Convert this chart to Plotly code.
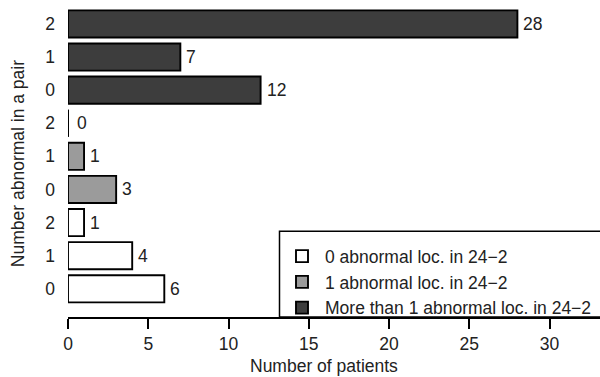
import plotly.graph_objects as go

# ---- data ----
group_names = [
    "0 abnormal loc. in 24\u22122",
    "1 abnormal loc. in 24\u22122",
    "More than 1 abnormal loc. in 24\u22122",
]
pair_labels = ["0", "1", "2"]
counts_0_abnormal = [6, 4, 1]
counts_1_abnormal = [3, 1, 0]
counts_more_abnormal = [12, 7, 28]
x_ticks = [0, 5, 10, 15, 20, 25, 30]

# ---- style ----
FONT = "Liberation Sans, Arial, Helvetica, sans-serif"
FS = 17.5
fills = ["#ffffff", "#9b9b9b", "#3d3d3d"]
W, H = 600, 377
ML, MR, MT, MB = 68, 0, 0, 60.3
plot_w = W - ML - MR
plot_h = H - MT - MB
px_per_unit = 16.05
row_px = 33.08
bar_w = 0.82

groups = [counts_0_abnormal, counts_1_abnormal, counts_more_abnormal]

fig = go.Figure()
annotations = []
shapes = []
ticktext = []
tickvals = []
row = 0
for gi, vals in enumerate(groups):
    ys = list(range(row, row + len(vals)))
    fig.add_trace(go.Bar(
        x=vals, y=ys, orientation="h", width=bar_w,
        name=group_names[gi],
        marker=dict(color=fills[gi], line=dict(color="#000000", width=1.9)),
        hoverinfo="x+y",
    ))
    for v, y, lab in zip(vals, ys, pair_labels):
        tickvals.append(y)
        ticktext.append(lab)
        annotations.append(dict(
            x=v, y=y, xref="x", yref="y", text=str(v), showarrow=False,
            xanchor="left", yanchor="middle", xshift=7 if v == 0 else 4,
            font=dict(family=FONT, size=FS, color="#222222"),
        ))
        if v == 0:
            # zero-length bar: R still draws its outline as a vertical segment
            shapes.append(dict(
                type="line", xref="x", yref="y", x0=v, x1=v,
                y0=y - bar_w / 2, y1=y + bar_w / 2,
                line=dict(color="#000000", width=1.9),
            ))
    row += len(vals)

# legend frame (extends past right edge like the reference)
shapes.append(dict(
    type="rect", xref="paper", yref="paper",
    x0=(279.5 - ML) / plot_w, x1=1.05, y0=0, y1=(plot_h - 231) / plot_h,
    line=dict(color="#000000", width=1.5), fillcolor="rgba(0,0,0,0)",
    layer="above",
))

# axis titles
annotations.append(dict(
    x=(324 - ML) / plot_w, y=-(366 - plot_h) / plot_h, xref="paper", yref="paper",
    text="Number of patients", showarrow=False, xanchor="center", yanchor="middle",
    font=dict(family=FONT, size=FS, color="#222222"),
))
annotations.append(dict(
    x=(18 - ML) / plot_w, y=(plot_h - 164) / plot_h, xref="paper", yref="paper",
    text="Number abnormal in a pair", showarrow=False, textangle=-90,
    xanchor="center", yanchor="middle",
    font=dict(family=FONT, size=FS, color="#222222"),
))

n_rows = row
fig.update_layout(
    width=W, height=H,
    margin=dict(l=ML, r=MR, t=MT, b=MB, pad=0),
    paper_bgcolor="#ffffff", plot_bgcolor="#ffffff",
    font=dict(family=FONT, size=FS, color="#222222"),
    showlegend=True,
    legend=dict(
        x=(279 - ML) / plot_w, y=(plot_h - 238) / plot_h,
        xanchor="left", yanchor="top",
        bgcolor="rgba(0,0,0,0)", borderwidth=0,
        itemwidth=36, tracegroupgap=0, traceorder="normal",
        font=dict(family=FONT, size=FS, color="#222222"),
    ),
    xaxis=dict(
        range=[0, plot_w / px_per_unit], tickvals=x_ticks,
        showgrid=False, zeroline=False,
        showline=True, linecolor="#000000", linewidth=1.5,
        ticks="outside", ticklen=10, tickwidth=1.5, tickcolor="#000000",
        tickfont=dict(family=FONT, size=FS, color="#222222"),
        fixedrange=True,
    ),
    yaxis=dict(
        range=[-(plot_h - 288.5) / row_px, (n_rows - 1) + 23.9 / row_px],
        tickvals=tickvals, ticktext=ticktext,
        showgrid=False, zeroline=False, showline=False,
        ticks="", ticklabelstandoff=12,
        tickfont=dict(family=FONT, size=FS, color="#222222"),
        fixedrange=True,
    ),
    annotations=annotations,
    shapes=shapes,
    bargap=0.18,
)

fig.write_html("out.html")
